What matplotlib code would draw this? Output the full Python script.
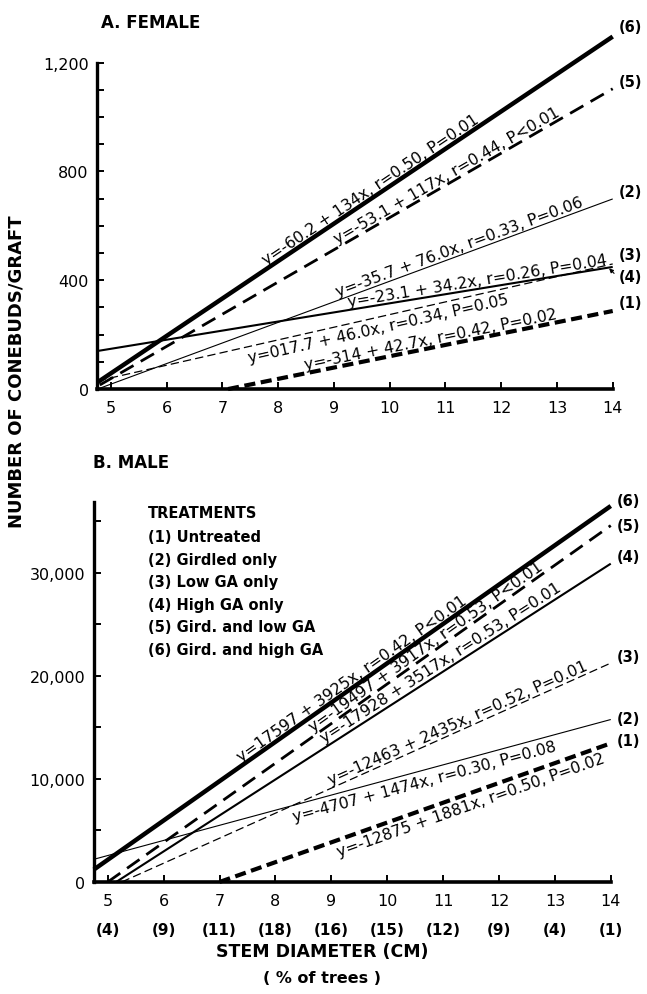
import matplotlib.pyplot as plt
import numpy as np
from matplotlib import transforms

plt.rcParams['font.family'] = ['DejaVu Sans']
plt.rcParams['lines.scale_dashes'] = False

# treatments (1)..(6)
treat_ids = [1, 2, 3, 4, 5, 6]
treat_names = ["Untreated", "Girdled only", "Low GA only", "High GA only",
               "Gird. and low GA", "Gird. and high GA"]

# stem diameter ticks and % of trees per class
diam_ticks = [5, 6, 7, 8, 9, 10, 11, 12, 13, 14]
pct_trees = [4, 9, 11, 18, 16, 15, 12, 9, 4, 1]

# A. female: regression lines (start x, start y, y at 14 cm)
fem_x0 = [7.1, 4.76, 4.76, 4.76, 4.8, 4.76]
fem_y0 = [0, 0, 30, 140, 15, 25]
fem_y14 = [287, 699, 460, 449, 1104, 1296]
fem_eq = ["y=-314 + 42.7x, r=0.42, P=0.02",
          "y=-35.7 + 76.0x, r=0.33, P=0.06",
          "y=017.7 + 46.0x, r=0.34, P=0.05",
          "y=-23.1 + 34.2x, r=0.26, P=0.04",
          "y=-53.1 + 117x, r=0.44, P<0.01",
          "y=-60.2 + 134x, r=0.50, P=0.01"]

# B. male
male_x0 = [7.0, 4.75, 5.25, 5.15, 5.0, 4.75]
male_y0 = [0, 2200, 0, 0, 0, 1200]
male_y14 = [13460, 15770, 21250, 30900, 34600, 36500]
male_eq = ["y=-12875 + 1881x, r=0.50, P=0.02",
           "y=-4707 + 1474x, r=0.30, P=0.08",
           "y=-12463 + 2435x, r=0.52, P=0.01",
           "y=-17928 + 3517x, r=0.53, P=0.01",
           "y=-19497 + 3917x, r=0.53, P<0.01",
           "y=17597 + 3925x, r=0.42, P<0.01"]

# line look per treatment: (linewidth, dashes or None)
styles = {1: (3.0, (8, 4)),
          2: (0.8, None),
          3: (0.9, (6, 3)),
          4: (1.5, None),
          5: (2.0, (11, 6)),
          6: (3.2, None)}

fig = plt.figure(figsize=(6.47, 9.95), dpi=100)
ax1 = fig.add_axes([0.150, 0.608, 0.797, 0.328])
ax2 = fig.add_axes([0.145, 0.1126, 0.799, 0.382])


def setup(ax, ymax, major, minor, labels):
    ax.set_xlim(4.75, 14)
    ax.set_ylim(0, ymax)
    for s in ['top', 'right']:
        ax.spines[s].set_visible(False)
    ax.spines['left'].set_linewidth(2.4)
    ax.spines['bottom'].set_linewidth(2.6)
    ax.set_xticks(diam_ticks)
    ax.set_yticks(major)
    ax.set_yticklabels(labels)
    ax.set_yticks(minor, minor=True)
    ax.tick_params(axis='both', which='both', direction='in', length=5, width=1.4)
    ax.tick_params(axis='x', labelsize=11.5, pad=8)
    ax.tick_params(axis='y', labelsize=11.5, pad=6)


setup(ax1, 1200, [0, 400, 800, 1200], np.arange(0, 1201, 100),
      ["0", "400", "800", "1,200"])
setup(ax2, 36900, [0, 10000, 20000, 30000], np.arange(0, 36000, 5000),
      ["0", "10,000", "20,000", "30,000"])


def draw_panel(ax, x0s, y0s, y14s, eqs, eq_x, eq_side, lab_dy):
    for i, n in enumerate(treat_ids):
        lw, dash = styles[n]
        x = [x0s[i], 14]
        y = [y0s[i], y14s[i]]
        ln, = ax.plot(x, y, color='black', lw=lw, solid_capstyle='butt',
                      dash_capstyle='butt', clip_on=False)
        if dash:
            ln.set_dashes(dash)
        # equation text along the line
        p = ax.transData.transform([(x[0], y[0]), (x[1], y[1])])
        ang = np.degrees(np.arctan2(p[1, 1] - p[0, 1], p[1, 0] - p[0, 0]))
        rad = np.radians(ang)
        xc = eq_x[i]
        yc = y[0] + (y[1] - y[0]) / (x[1] - x[0]) * (xc - x[0])
        gap = 3.0 if eq_side[i] == 'a' else -2.5
        tr = transforms.offset_copy(ax.transData, fig=fig, x=-np.sin(rad) * gap,
                                    y=np.cos(rad) * gap, units='points')
        ax.text(xc, yc, eqs[i], transform=tr, rotation=ang, rotation_mode='anchor',
                ha='center', va='baseline' if eq_side[i] == 'a' else 'top',
                fontsize=11.3)
        # (n) label at the right end
        tr2 = transforms.offset_copy(ax.transData, fig=fig, x=4, y=lab_dy[i],
                                     units='points')
        ax.text(14, y14s[i], f"({n})", transform=tr2, ha='left', va='center',
                fontsize=10.5, fontweight='bold', clip_on=False)


fig.canvas.draw()
draw_panel(ax1, fem_x0, fem_y0, fem_y14, fem_eq,
           [10.77, 11.3, 9.76, 11.6, 11.1, 9.74],
           ['a', 'a', 'b', 'a', 'a', 'a'],
           [6, 5, 6.5, -7, 5, 7])
draw_panel(ax2, male_x0, male_y0, male_y14, male_eq,
           [11.43, 10.62, 11.32, 11.05, 10.78, 9.45],
           ['b', 'b', 'a', 'a', 'a', 'a'],
           [2, 1, 5, 5, 0, 4])

# little arrow from label (4) to the line end
ax1.annotate("", xy=(13.9, 451), xytext=(14.06, 418),
             arrowprops=dict(arrowstyle='-|>', lw=0.8, color='black',
                             mutation_scale=6))

# % of trees row under the male x axis
for xv, pv in zip(diam_ticks, pct_trees):
    ax2.annotate(f"({pv})", xy=(xv, 0), xycoords=('data', 'axes fraction'),
                 xytext=(0, -34), textcoords='offset points', ha='center',
                 va='center', fontsize=11, fontweight='bold')

# legend block
fig.text(0.229, 1 - 514 / 995, "TREATMENTS", fontsize=10.5, fontweight='bold',
         va='center')
for i, (n, name) in enumerate(zip(treat_ids, treat_names)):
    fig.text(0.229, 1 - (538 + 22.4 * i) / 995, f"({n}) {name}", fontsize=10.5,
             fontweight='bold', va='center')

fig.text(0.156, 1 - 23 / 995, "A. FEMALE", fontsize=12, fontweight='bold', va='center')
fig.text(0.144, 1 - 463 / 995, "B. MALE", fontsize=12, fontweight='bold', va='center')
fig.text(0.026, 1 - 372 / 995, "NUMBER OF CONEBUDS/GRAFT", rotation=90,
         fontsize=13, fontweight='bold', ha='center', va='center')
fig.text(0.498, 1 - 952 / 995, "STEM DIAMETER (CM)", fontsize=12.5,
         fontweight='bold', ha='center', va='center')
fig.text(0.498, 1 - 979 / 995, "( % of trees )", fontsize=11.5,
         fontweight='bold', ha='center', va='center')

fig.savefig("out.png", dpi=100)
